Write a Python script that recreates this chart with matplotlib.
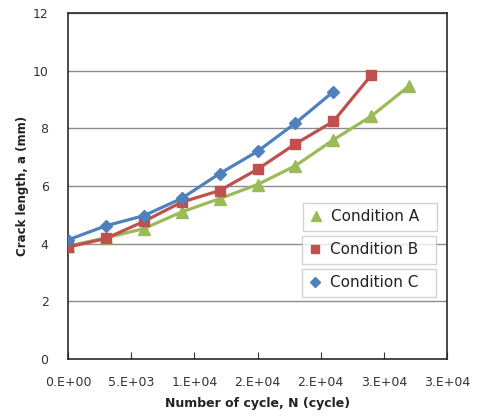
import matplotlib
matplotlib.use("Agg")
import matplotlib.pyplot as plt
from matplotlib.lines import Line2D

plt.rcParams['font.family'] = ['DejaVu Sans']

# Data
x_a = [0, 3000, 6000, 9000, 12000, 15000, 18000, 21000, 24000, 27000]
y_a = [3.92, 4.2, 4.52, 5.1, 5.56, 6.05, 6.7, 7.6, 8.42, 9.47]
x_b = [0, 3000, 6000, 9000, 12000, 15000, 18000, 21000, 24000]
y_b = [3.88, 4.18, 4.77, 5.44, 5.84, 6.58, 7.46, 8.24, 9.84]
x_c = [0, 3000, 6000, 9000, 12000, 15000, 18000, 21000]
y_c = [4.13, 4.62, 4.97, 5.57, 6.43, 7.2, 8.18, 9.27]

labels = ["Condition A", "Condition B", "Condition C"]
x_ticks = [0, 5000, 10000, 15000, 20000, 25000, 30000]
x_tick_labels = ["0.E+00", "5.E+03", "1.E+04", "2.E+04", "2.E+04", "3.E+04", "3.E+04"]
y_ticks = [0, 2, 4, 6, 8, 10, 12]

W, H = 483, 416
fig = plt.figure(figsize=(W / 100, H / 100), dpi=100)
L, R, T, B = 68, 447, 13, 359
ax = fig.add_axes([L / W, 1 - B / H, (R - L) / W, (B - T) / H])

colors = ["#9BBB59", "#C0504D", "#4F81BD"]
markers = ["^", "s", "D"]
msizes = [8, 7, 6]
series = [(x_a, y_a), (x_b, y_b), (x_c, y_c)]
handles = []
for (xs, ys), c, m, ms, lab in zip(series, colors, markers, msizes, labels):
    h, = ax.plot(xs, ys, color=c, lw=2.3, marker=m, markersize=ms,
                 markeredgecolor=c, label=lab, zorder=3)
    handles.append(h)

ax.set_xlim(0, 30000)
ax.set_ylim(0, 12)
ax.set_xticks(x_ticks)
ax.set_xticklabels(x_tick_labels)
ax.set_yticks(y_ticks)
ax.yaxis.grid(True, color="#8c8c8c", lw=1.0)
ax.set_axisbelow(True)
for s in ax.spines.values():
    s.set_color("#2a2a2a")
    s.set_linewidth(1.2)
ax.tick_params(axis='x', direction='in', length=5, color='#333333',
               labelsize=9, labelcolor='#333333', pad=12)
ax.tick_params(axis='y', direction='out', length=0, labelsize=9,
               labelcolor='#333333', pad=14)

ax.set_xlabel("Number of cycle, N (cycle)", fontsize=9, fontweight='bold',
              color='#222222', labelpad=6)
ax.set_ylabel("Crack length, a (mm)", fontsize=8.5, fontweight='bold',
              color='#222222', labelpad=3)

# Excel-style separate legend boxes (top-left corners in pixels)
boxes = [(303, 203), (302, 236), (302, 269)]
leg_msizes = [7, 6, 5.5]
for h, lab, (bx, by), lms in zip(handles, labels, boxes, leg_msizes):
    proxy = Line2D([], [], linestyle='none', marker=h.get_marker(),
                   markersize=lms, color=h.get_color())
    leg = fig.legend([proxy], [lab], loc='upper left',
                     bbox_to_anchor=(bx / W, 1 - (by + 29) / H, 134 / W, 29 / H),
                     bbox_transform=fig.transFigure, mode='expand',
                     fontsize=11, frameon=True, fancybox=False,
                     handlelength=0.8, handletextpad=0.6, borderpad=0.42,
                     borderaxespad=0)
    leg.get_frame().set_edgecolor('#c8c8c8')
    leg.get_frame().set_linewidth(1.0)
    for t in leg.get_texts():
        t.set_color('#222222')

fig.savefig("out.png", dpi=100)
